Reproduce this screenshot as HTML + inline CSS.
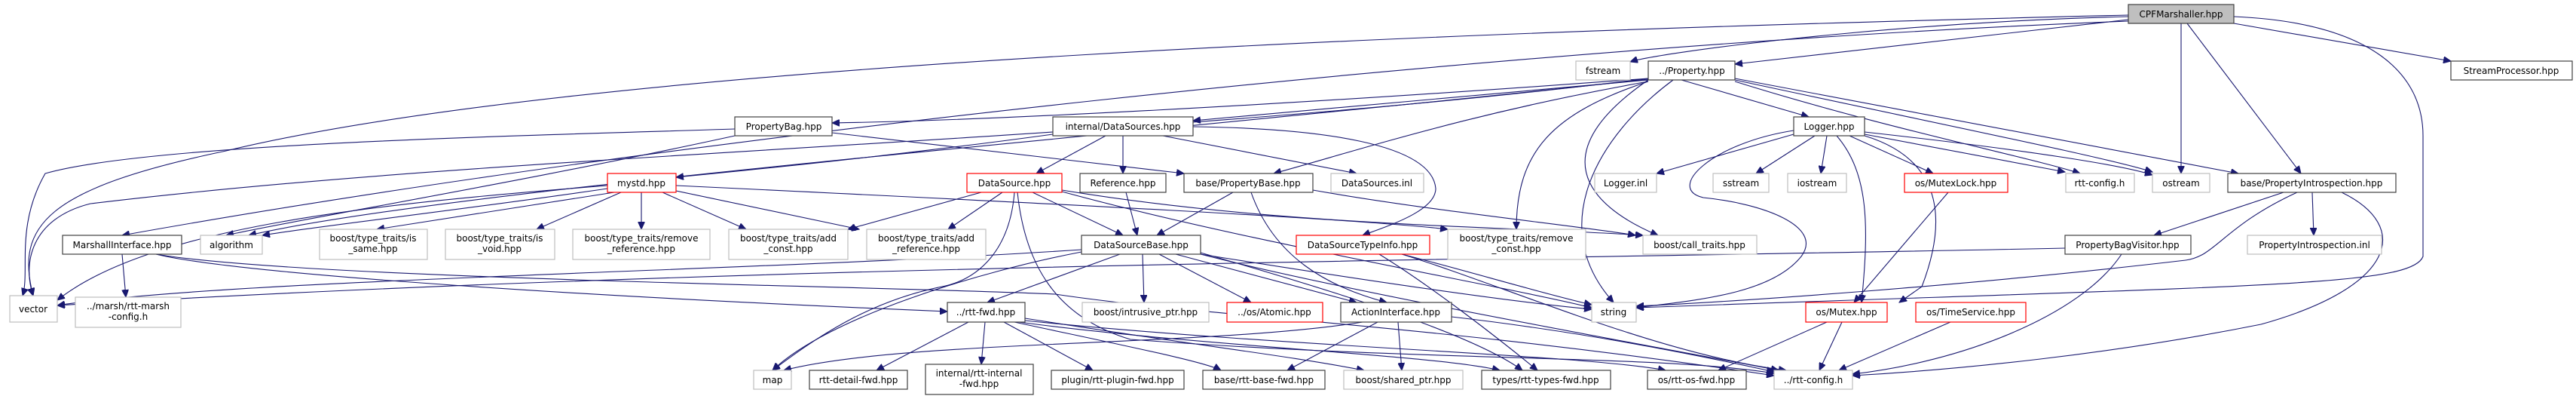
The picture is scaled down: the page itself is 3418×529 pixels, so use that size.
<!DOCTYPE html>
<html><head><meta charset="utf-8"><style>
html,body{margin:0;padding:0;background:#fff;}
svg{display:block;}
text{font-family:"DejaVu Sans","Liberation Sans",sans-serif;font-size:12px;fill:#000;text-anchor:middle;}
.b{fill:#fff;stroke:#404040;stroke-width:1.2;}
.g{fill:#fff;stroke:#bfbfbf;stroke-width:1.2;}
.r{fill:#fff;stroke:#ff0000;stroke-width:1.2;}
.e{fill:none;stroke:#191970;stroke-width:1.1;}
</style></head><body>
<svg width="3418" height="529" viewBox="0 0 3418 529" xmlns="http://www.w3.org/2000/svg">
<defs><marker id="a" markerUnits="userSpaceOnUse" markerWidth="11" markerHeight="9" refX="10" refY="4.5" orient="auto"><path d="M0,0 L10,4.5 L0,9 z" fill="#191970" stroke="#191970"/></marker></defs>
<g marker-end="url(#a)">
<!-- CPFMarshaller -->
<path class="e" d="M2824,22 C2500,30 2200,70 2163,82"/>
<path class="e" d="M2824,26 C2600,50 2400,75 2302,85"/>
<path class="e" d="M2964,31 L3252,81"/>
<path class="e" d="M2894,31 L2894,230"/>
<path class="e" d="M2902,31 L3053,230"/>
<path class="e" d="M2824,28 C2000,60 900,180 162,312"/>
<path class="e" d="M2824,20 C2000,40 800,80 300,200 C60,250 20,300 44,392"/>
<path class="e" d="M2964,22 C3150,30 3215,100 3215,180 L3215,340 C3200,380 3000,378 2171,408"/>
<!-- Property.hpp -->
<path class="e" d="M2187,104 C1700,140 1300,160 1104,163"/>
<path class="e" d="M2187,106 C1900,130 1700,150 1583,160"/>
<path class="e" d="M2231,106 L2400,155"/>
<path class="e" d="M2187,108 C1950,150 1800,200 1690,230"/>
<path class="e" d="M2302,108 C2500,170 2700,210 2760,230"/>
<path class="e" d="M2302,106 C2600,170 2800,210 2856,228"/>
<path class="e" d="M2302,104 L2970,230"/>
<path class="e" d="M2220,106 C2120,180 2050,300 2141,401"/>
<path class="e" d="M2187,108 C2060,150 2012,200 2012,304"/>
<path class="e" d="M2187,106 C2050,200 2100,270 2200,312"/>
<path class="e" d="M2187,105 C1500,180 600,250 330,312"/>
<path class="e" d="M2187,104 C1500,190 700,200 120,270 C40,290 30,350 44,392"/>
<!-- PropertyBag -->
<path class="e" d="M975,171 C700,180 200,190 60,230 C20,300 40,360 30,392"/>
<path class="e" d="M975,180 C700,240 400,290 300,312"/>
<path class="e" d="M1104,176 L1571,230"/>
<!-- internal/DataSources -->
<path class="e" d="M1397,178 C1200,205 1000,225 897,235"/>
<path class="e" d="M1467,180 L1375,230"/>
<path class="e" d="M1490,180 L1490,230"/>
<path class="e" d="M1543,180 L1800,230"/>
<path class="e" d="M1583,168 C1750,170 1900,190 1905,250 C1905,280 1840,300 1808,312"/>
<!-- Logger -->
<path class="e" d="M2380,178 L2198,230"/>
<path class="e" d="M2408,180 L2330,230"/>
<path class="e" d="M2424,180 L2416,230"/>
<path class="e" d="M2454,180 L2565,230"/>
<path class="e" d="M2474,178 L2740,228"/>
<path class="e" d="M2474,175 C2700,200 2820,220 2856,232"/>
<path class="e" d="M2437,180 C2480,230 2480,300 2470,401"/>
<path class="e" d="M2474,180 C2540,200 2600,250 2550,380 L2520,401"/>
<path class="e" d="M2380,173 C2270,190 2210,250 2260,262 C2340,270 2420,300 2390,340 C2350,390 2250,398 2171,408"/>
<!-- mystd -->
<path class="e" d="M815,255 L500,304"/>
<path class="e" d="M824,255 L712,304"/>
<path class="e" d="M851,255 L851,304"/>
<path class="e" d="M879,255 L990,304"/>
<path class="e" d="M897,253 L1140,304"/>
<path class="e" d="M806,246 C500,270 200,300 76,398"/>
<path class="e" d="M806,250 C600,280 420,300 348,312"/>
<path class="e" d="M897,246 C1400,270 1800,290 1921,304"/>
<!-- DataSource -->
<path class="e" d="M1302,255 L1125,304"/>
<path class="e" d="M1330,255 L1258,304"/>
<path class="e" d="M1370,255 L1490,312"/>
<path class="e" d="M1346,255 C1340,330 1300,370 1250,380 C1150,400 1080,450 1025,491"/>
<path class="e" d="M1350,255 C1360,350 1400,420 1500,450 C1900,480 2200,470 2354,495"/>
<path class="e" d="M1409,252 C1700,300 2000,300 2180,312"/>
<path class="e" d="M1409,254 C1650,320 2000,380 2112,408"/>
<!-- Reference / PropertyBase -->
<path class="e" d="M1494,255 L1509,312"/>
<path class="e" d="M1636,255 L1535,312"/>
<path class="e" d="M1660,255 C1690,340 1760,380 1840,401"/>
<path class="e" d="M1742,252 C1900,280 2100,300 2170,312"/>
<!-- DataSourceBase -->
<path class="e" d="M1516,337 L1518,401"/>
<path class="e" d="M1538,337 L1660,401"/>
<path class="e" d="M1560,337 L1800,401"/>
<path class="e" d="M1486,337 L1310,401"/>
<path class="e" d="M1435,334 C1300,360 1100,420 1025,491"/>
<path class="e" d="M1435,331 C1000,360 300,370 76,405"/>
<path class="e" d="M1593,337 C1800,370 2000,400 2112,410"/>
<path class="e" d="M1593,337 C1800,390 2200,460 2360,491"/>
<path class="e" d="M1593,335 C1750,380 1950,440 2020,491"/>
<!-- DataSourceTypeInfo -->
<path class="e" d="M1830,337 C1900,380 1990,450 2040,491"/>
<path class="e" d="M1860,337 C1950,360 2050,390 2112,404"/>
<path class="e" d="M1860,337 C2000,380 2200,470 2370,491"/>
<!-- MarshallInterface -->
<path class="e" d="M162,337 L167,394"/>
<path class="e" d="M207,337 C300,360 700,390 1257,413"/>
<path class="e" d="M207,337 C400,370 1200,380 1400,390 C1600,420 1900,430 2354,498"/>
<!-- rtt-fwd -->
<path class="e" d="M1285,427 L1163,491"/>
<path class="e" d="M1307,427 L1302,483"/>
<path class="e" d="M1332,427 L1450,491"/>
<path class="e" d="M1346,427 C1500,460 1600,480 1620,491"/>
<path class="e" d="M1352,427 C1600,460 1900,470 1990,491"/>
<path class="e" d="M1360,425 C1700,460 2100,470 2210,491"/>
<path class="e" d="M1360,422 C1600,460 1700,470 1810,491"/>
<!-- ActionInterface -->
<path class="e" d="M1828,427 L1708,491"/>
<path class="e" d="M1855,427 L1860,491"/>
<path class="e" d="M1808,427 C1600,460 1200,450 1040,491"/>
<path class="e" d="M1926,420 C2100,440 2250,470 2354,493"/>
<!-- Mutex etc -->
<path class="e" d="M2585,255 L2460,401"/>
<path class="e" d="M2424,427 L2280,491"/>
<path class="e" d="M2444,427 L2414,491"/>
<path class="e" d="M2588,427 L2440,491"/>
<!-- PropertyIntrospection -->
<path class="e" d="M3030,255 L2858,312"/>
<path class="e" d="M3068,255 L3070,312"/>
<path class="e" d="M3048,255 C2950,300 2940,340 2900,345 C2600,380 2300,400 2171,406"/>
<path class="e" d="M3107,255 C3200,300 3180,380 3000,430 C2800,470 2600,490 2458,498"/>
<!-- PropertyBagVisitor -->
<path class="e" d="M2740,329 C2000,345 1000,350 76,405"/>
<path class="e" d="M2815,337 C2760,420 2600,480 2458,496"/>
</g>
<!-- nodes -->
<rect class="b" x="2824" y="6" width="140" height="25" style="fill:#bfbfbf"/><text x="2894" y="23">CPFMarshaller.hpp</text>
<rect class="g" x="2091" y="81" width="72" height="25"/><text x="2127" y="98">fstream</text>
<rect class="b" x="2187" y="81" width="115" height="25"/><text x="2245" y="98">../Property.hpp</text>
<rect class="b" x="3252" y="81" width="161" height="25"/><text x="3332" y="98">StreamProcessor.hpp</text>
<rect class="b" x="975" y="155" width="129" height="25"/><text x="1040" y="172">PropertyBag.hpp</text>
<rect class="b" x="1397" y="155" width="186" height="25"/><text x="1490" y="172">internal/DataSources.hpp</text>
<rect class="b" x="2380" y="155" width="94" height="25"/><text x="2427" y="172">Logger.hpp</text>
<rect class="r" x="806" y="230" width="91" height="25"/><text x="851" y="247">mystd.hpp</text>
<rect class="r" x="1283" y="230" width="126" height="25"/><text x="1346" y="247">DataSource.hpp</text>
<rect class="b" x="1433" y="230" width="114" height="25"/><text x="1490" y="247">Reference.hpp</text>
<rect class="b" x="1571" y="230" width="171" height="25"/><text x="1656" y="247">base/PropertyBase.hpp</text>
<rect class="g" x="1766" y="230" width="123" height="25"/><text x="1827" y="247">DataSources.inl</text>
<rect class="g" x="2116" y="230" width="82" height="25"/><text x="2157" y="247">Logger.inl</text>
<rect class="g" x="2273" y="230" width="74" height="25"/><text x="2310" y="247">sstream</text>
<rect class="g" x="2372" y="230" width="78" height="25"/><text x="2411" y="247">iostream</text>
<rect class="r" x="2527" y="230" width="137" height="25"/><text x="2595" y="247">os/MutexLock.hpp</text>
<rect class="g" x="2741" y="230" width="91" height="25"/><text x="2786" y="247">rtt-config.h</text>
<rect class="g" x="2856" y="230" width="76" height="25"/><text x="2894" y="247">ostream</text>
<rect class="b" x="2956" y="230" width="223" height="25"/><text x="3067" y="247">base/PropertyIntrospection.hpp</text>
<rect class="b" x="83" y="312" width="158" height="25"/><text x="162" y="329">MarshallInterface.hpp</text>
<rect class="g" x="266" y="312" width="82" height="25"/><text x="307" y="329">algorithm</text>
<rect class="g" x="424" y="304" width="143" height="40"/><text x="495" y="320">boost/type_traits/is</text><text x="495" y="334">_same.hpp</text>
<rect class="g" x="591" y="304" width="145" height="40"/><text x="663" y="320">boost/type_traits/is</text><text x="663" y="334">_void.hpp</text>
<rect class="g" x="760" y="304" width="182" height="40"/><text x="851" y="320">boost/type_traits/remove</text><text x="851" y="334">_reference.hpp</text>
<rect class="g" x="967" y="304" width="158" height="40"/><text x="1046" y="320">boost/type_traits/add</text><text x="1046" y="334">_const.hpp</text>
<rect class="g" x="1150" y="304" width="158" height="40"/><text x="1229" y="320">boost/type_traits/add</text><text x="1229" y="334">_reference.hpp</text>
<rect class="b" x="1435" y="312" width="158" height="25"/><text x="1514" y="329">DataSourceBase.hpp</text>
<rect class="r" x="1720" y="312" width="177" height="25"/><text x="1808" y="329">DataSourceTypeInfo.hpp</text>
<rect class="g" x="1921" y="304" width="183" height="40"/><text x="2012" y="320">boost/type_traits/remove</text><text x="2012" y="334">_const.hpp</text>
<rect class="g" x="2180" y="312" width="151" height="25"/><text x="2255" y="329">boost/call_traits.hpp</text>
<rect class="b" x="2740" y="312" width="167" height="25"/><text x="2823" y="329">PropertyBagVisitor.hpp</text>
<rect class="g" x="2982" y="312" width="178" height="25"/><text x="3071" y="329">PropertyIntrospection.inl</text>
<rect class="g" x="13" y="392" width="63" height="35"/><text x="44" y="414">vector</text>
<rect class="g" x="100" y="394" width="140" height="40"/><text x="170" y="410">../marsh/rtt-marsh</text><text x="170" y="424">-config.h</text>
<rect class="b" x="1257" y="401" width="103" height="26"/><text x="1308" y="418">../rtt-fwd.hpp</text>
<rect class="g" x="1436" y="401" width="168" height="26"/><text x="1520" y="418">boost/intrusive_ptr.hpp</text>
<rect class="r" x="1628" y="401" width="127" height="26"/><text x="1691" y="418">../os/Atomic.hpp</text>
<rect class="b" x="1779" y="401" width="147" height="26"/><text x="1852" y="418">ActionInterface.hpp</text>
<rect class="g" x="2112" y="401" width="59" height="26"/><text x="2141" y="418">string</text>
<rect class="r" x="2396" y="401" width="108" height="26"/><text x="2450" y="418">os/Mutex.hpp</text>
<rect class="r" x="2542" y="401" width="146" height="26"/><text x="2615" y="418">os/TimeService.hpp</text>
<rect class="g" x="1000" y="491" width="50" height="25"/><text x="1025" y="508">map</text>
<rect class="b" x="1074" y="491" width="130" height="25"/><text x="1139" y="508">rtt-detail-fwd.hpp</text>
<rect class="b" x="1228" y="483" width="143" height="40"/><text x="1299" y="499">internal/rtt-internal</text><text x="1299" y="513">-fwd.hpp</text>
<rect class="b" x="1395" y="491" width="176" height="25"/><text x="1483" y="508">plugin/rtt-plugin-fwd.hpp</text>
<rect class="b" x="1596" y="491" width="162" height="25"/><text x="1677" y="508">base/rtt-base-fwd.hpp</text>
<rect class="g" x="1783" y="491" width="158" height="25"/><text x="1862" y="508">boost/shared_ptr.hpp</text>
<rect class="b" x="1966" y="491" width="171" height="25"/><text x="2051" y="508">types/rtt-types-fwd.hpp</text>
<rect class="b" x="2186" y="491" width="131" height="25"/><text x="2251" y="508">os/rtt-os-fwd.hpp</text>
<rect class="g" x="2354" y="491" width="104" height="25"/><text x="2406" y="508">../rtt-config.h</text>
</svg>
</body></html>
